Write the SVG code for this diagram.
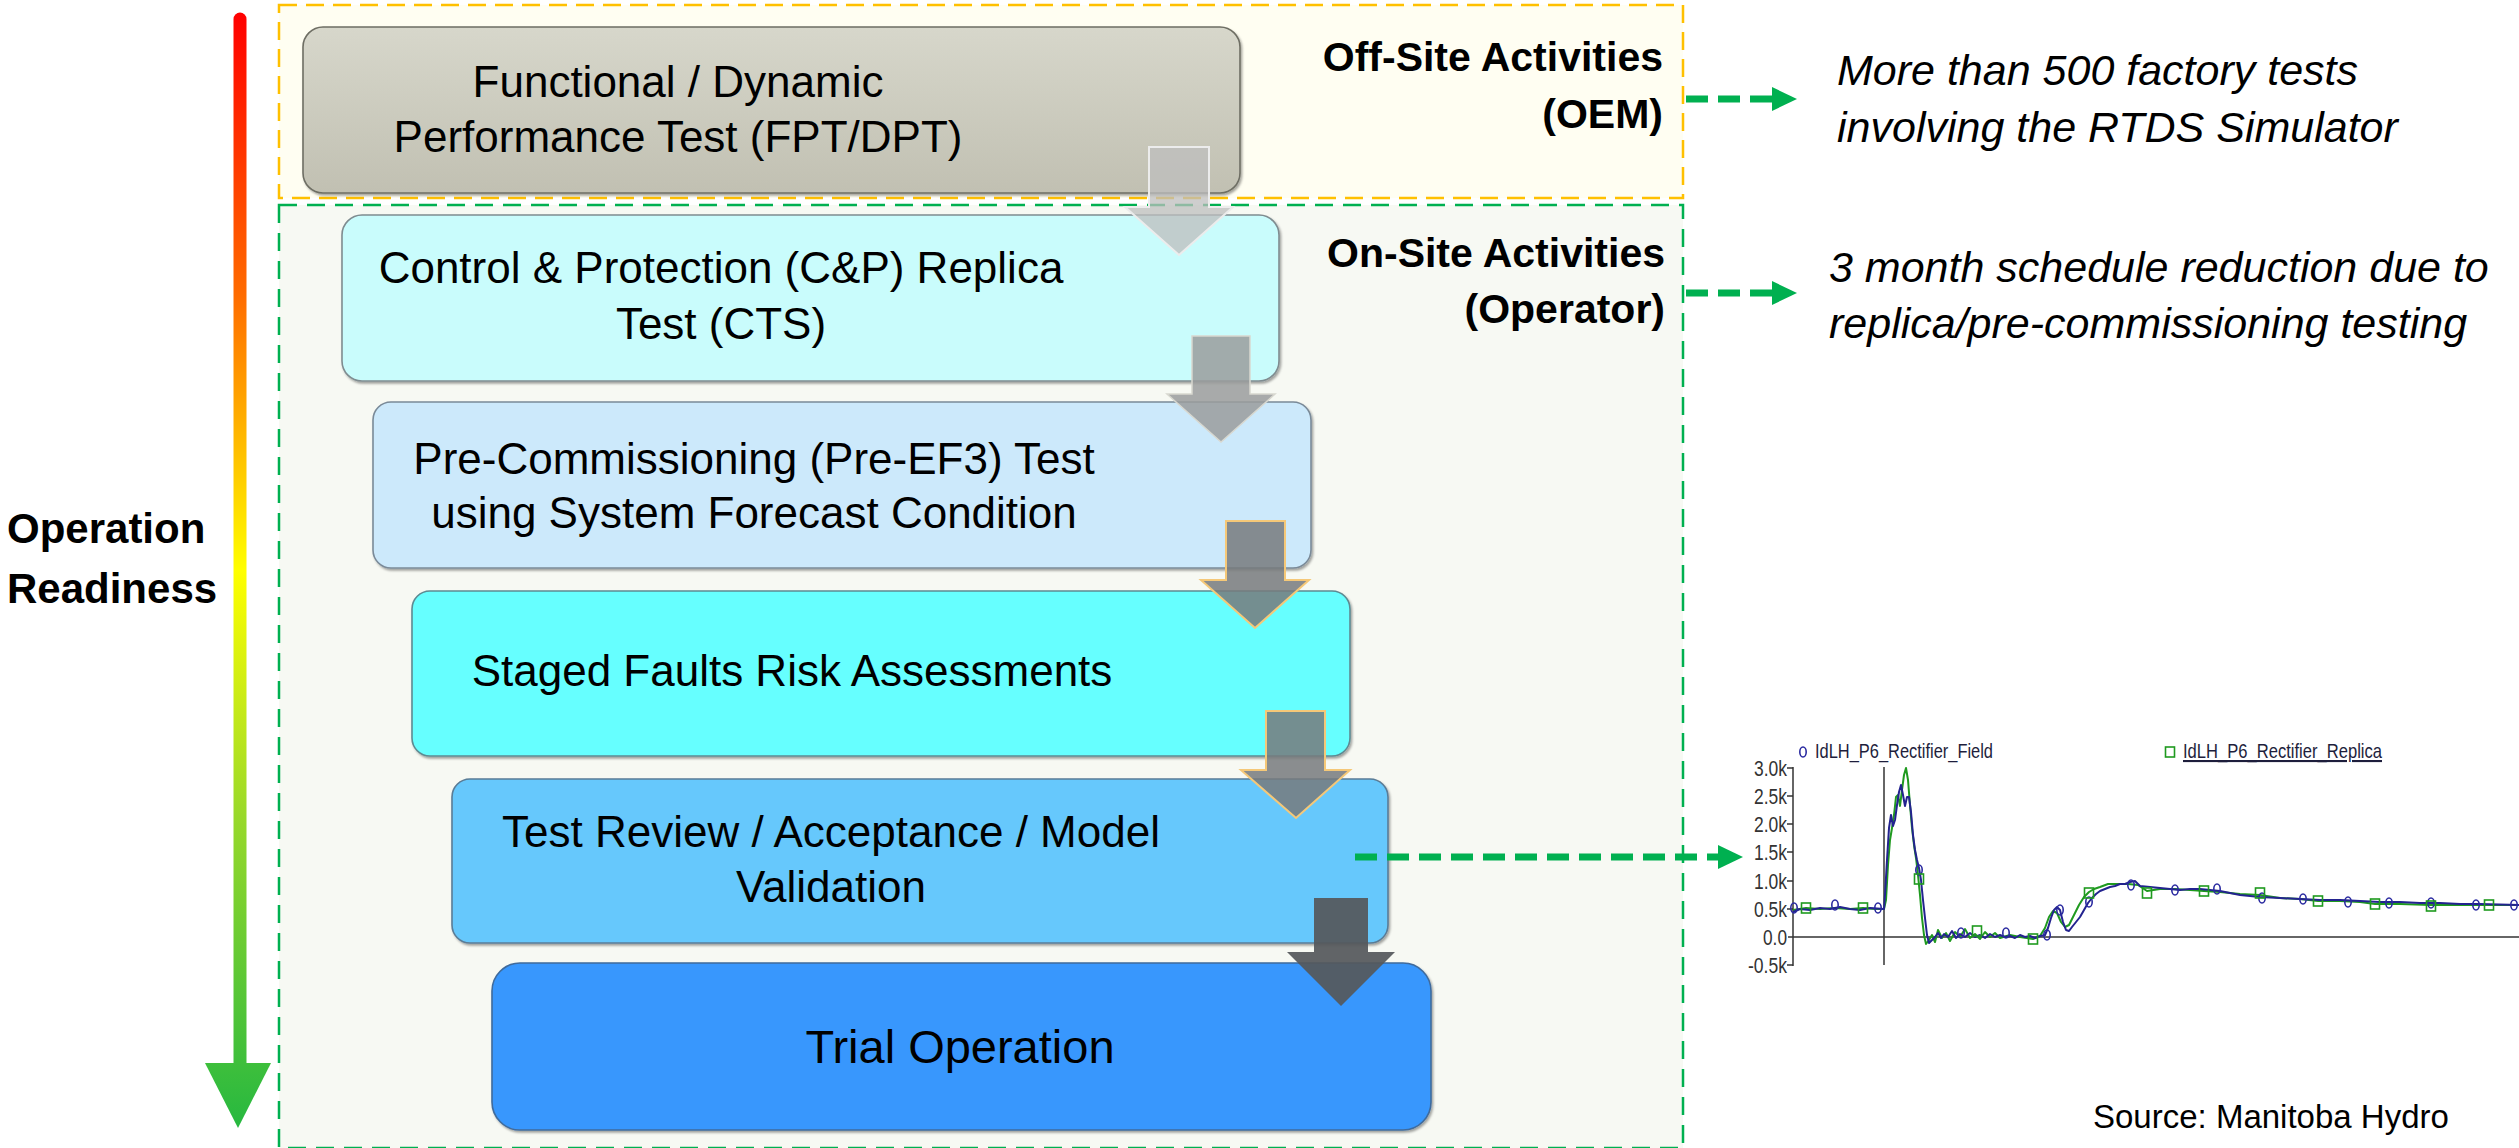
<svg xmlns="http://www.w3.org/2000/svg" xmlns:xlink="http://www.w3.org/1999/xlink" width="2519" height="1148" viewBox="0 0 2519 1148">
  <style>
    .node-text { font-family: "Liberation Sans", Arial, sans-serif; font-size: 44px; fill: #000; text-anchor: middle; }
    .side-label { font-family: "Liberation Sans", Arial, sans-serif; font-size: 41px; font-weight: bold; fill: #000; text-anchor: end; }
    .note { font-family: "Liberation Sans", Arial, sans-serif; font-size: 43px; font-style: italic; fill: #000; }
    .axis-label { font-family: "Liberation Sans", Arial, sans-serif; font-size: 22px; fill: #333; text-anchor: end; }
    .legend { font-family: "Liberation Sans", Arial, sans-serif; font-size: 21px; fill: #1e1e3c; }
    .box { stroke-width: 1.6; }
    .flow-arrow { stroke-linejoin: miter; }
    .link { stroke: #00b050; stroke-width: 7; stroke-dasharray: 22 10; fill: none; }
  </style>
  <defs>
    <linearGradient id="readiness" gradientUnits="userSpaceOnUse" x1="0" y1="13" x2="0" y2="1128">
      <stop offset="0" stop-color="#ff0000"/>
      <stop offset="0.25" stop-color="#ff6a00"/>
      <stop offset="0.5" stop-color="#ffff00"/>
      <stop offset="0.72" stop-color="#99d92a"/>
      <stop offset="1" stop-color="#26b840"/>
    </linearGradient>
    <linearGradient id="grayFill" x1="0" y1="0" x2="0" y2="1">
      <stop offset="0" stop-color="#d7d7cb"/>
      <stop offset="1" stop-color="#c1c0b2"/>
    </linearGradient>
    <filter id="shadow" x="-5%" y="-10%" width="110%" height="125%">
      <feDropShadow dx="1.5" dy="2" stdDeviation="1" flood-color="#000" flood-opacity="0.35"/>
    </filter>
    <marker id="greenHead" markerUnits="userSpaceOnUse" markerWidth="26" markerHeight="24" refX="0" refY="12" orient="auto">
      <path d="M0,0 L25,12 L0,24 Z" fill="#00b050"/>
    </marker>
    <ellipse id="circ" cx="0" cy="0" rx="3.2" ry="5" fill="none" stroke="#2a2aa0" stroke-width="1.6"/>
    <rect id="sq" x="-4.5" y="-5" width="9" height="10" fill="none" stroke="#1f9a1f" stroke-width="1.6"/>
  </defs>

  <rect x="0" y="0" width="2519" height="1148" fill="#ffffff"/>

  <!-- readiness scale on the left -->
  <g id="readiness-scale">
    <line x1="240" y1="19" x2="240" y2="1066" stroke="url(#readiness)" stroke-width="13" stroke-linecap="round"/>
    <polygon points="205,1063 271,1063 238,1128" fill="url(#readiness)"/>
    <text x="7" y="543" font-family="Liberation Sans, Arial, sans-serif" font-size="42" font-weight="bold">Operation</text>
    <text x="7" y="603" font-family="Liberation Sans, Arial, sans-serif" font-size="42" font-weight="bold">Readiness</text>
  </g>

  <!-- activity zones -->
  <g id="off-site-zone">
    <rect x="279" y="5" width="1404" height="193" fill="#fffef2" stroke="#ffc000" stroke-width="2.5" stroke-dasharray="18 9"/>
    <text class="side-label" x="1663" y="71">Off-Site Activities</text>
    <text class="side-label" x="1663" y="128">(OEM)</text>
  </g>
  <g id="on-site-zone">
    <rect x="279" y="205" width="1404" height="943" fill="#f7f9f3" stroke="#00b050" stroke-width="2.5" stroke-dasharray="18 10"/>
    <text class="side-label" x="1665" y="267">On-Site Activities</text>
    <text class="side-label" x="1665" y="323">(Operator)</text>
  </g>

  <!-- process steps -->
  <g id="step-fpt-dpt">
    <rect class="box" x="303" y="27" width="937" height="166" rx="20" fill="url(#grayFill)" stroke="#6e6e64" filter="url(#shadow)"/>
    <text class="node-text" x="678" y="97">Functional / Dynamic</text>
    <text class="node-text" x="678" y="152">Performance Test (FPT/DPT)</text>
  </g>
  <g id="step-replica">
    <rect class="box" x="342" y="215" width="937" height="166" rx="20" fill="#c9fcfc" stroke="#7f8c90" filter="url(#shadow)"/>
    <text class="node-text" x="721" y="283">Control &amp; Protection (C&amp;P) Replica</text>
    <text class="node-text" x="721" y="339">Test (CTS)</text>
  </g>
  <g id="step-pre-commissioning">
    <rect class="box" x="373" y="402" width="938" height="166" rx="18" fill="#cce9fb" stroke="#7a8a98" filter="url(#shadow)"/>
    <text class="node-text" x="754" y="474">Pre-Commissioning (Pre-EF3) Test</text>
    <text class="node-text" x="754" y="528">using System Forecast Condition</text>
  </g>
  <g id="step-staged-faults">
    <rect class="box" x="412" y="591" width="938" height="165" rx="18" fill="#66ffff" stroke="#5d8a92" filter="url(#shadow)"/>
    <text class="node-text" x="792" y="686">Staged Faults Risk Assessments</text>
  </g>
  <g id="step-review">
    <rect class="box" x="452" y="779" width="936" height="164" rx="18" fill="#66c8fc" stroke="#5a7c96" filter="url(#shadow)"/>
    <text class="node-text" x="831" y="847">Test Review / Acceptance / Model</text>
    <text class="node-text" x="831" y="902">Validation</text>
  </g>
  <g id="step-trial">
    <rect class="box" x="492" y="963" width="939" height="167" rx="28" fill="#3797fd" stroke="#3f6b9c" stroke-width="2" filter="url(#shadow)"/>
    <text class="node-text" x="960" y="1063" style="font-size:47px">Trial Operation</text>
  </g>

  <!-- connectors -->
  <g id="connectors">
    <polygon class="flow-arrow" points="1149,147 1209,147 1209,207 1233,207 1179,255 1125,207 1149,207" fill="#bdbdbd" fill-opacity="0.75" stroke="#ececec" stroke-width="2"/>
    <polygon class="flow-arrow" points="1192,336 1250,336 1250,394 1275,394 1221,442 1167,394 1192,394" fill="#9a9c9c" fill-opacity="0.85" stroke="#d8d8d0" stroke-width="1.5"/>
    <polygon class="flow-arrow" points="1226,521 1285,521 1285,580 1309,580 1255,628 1201,580 1226,580" fill="#777a7d" fill-opacity="0.85" stroke="#f5c878" stroke-width="2"/>
    <polygon class="flow-arrow" points="1266,711 1325,711 1325,770 1350,770 1296,818 1241,770 1266,770" fill="#777a7d" fill-opacity="0.85" stroke="#f5c878" stroke-width="2"/>
    <polygon class="flow-arrow" points="1314,898 1368,898 1368,952 1395,952 1341,1006 1287,952 1314,952" fill="#55585b" fill-opacity="0.93"/>

    <line class="link" x1="1686" y1="99" x2="1772" y2="99" marker-end="url(#greenHead)"/>
    <line class="link" x1="1686" y1="293" x2="1772" y2="293" marker-end="url(#greenHead)"/>
    <line class="link" x1="1355" y1="857" x2="1718" y2="857" marker-end="url(#greenHead)"/>
  </g>

  <!-- notes -->
  <g id="notes">
    <text class="note" x="1837" y="85">More than 500 factory tests</text>
    <text class="note" x="1837" y="142">involving the RTDS Simulator</text>
    <text class="note" x="1829" y="282">3 month schedule reduction due to</text>
    <text class="note" x="1829" y="338">replica/pre-commissioning testing</text>
  </g>

  <!-- measured vs. replica DC current trace -->
  <g id="trace-chart">
    <use xlink:href="#circ" x="1803" y="752"/>
    <text class="legend" x="1815" y="758" textLength="178" lengthAdjust="spacingAndGlyphs">IdLH_P6_Rectifier_Field</text>
    <use xlink:href="#sq" x="2170" y="752"/>
    <text class="legend" x="2183" y="758" textLength="199" lengthAdjust="spacingAndGlyphs" text-decoration="underline">IdLH_P6_Rectifier_Replica</text>

    <g stroke="#333" stroke-width="1.5">
      <line x1="1793" y1="767" x2="1793" y2="966"/>
      <line x1="1788" y1="937" x2="2519" y2="937"/>
      <line x1="1884" y1="767" x2="1884" y2="965"/>
      <line x1="1787" y1="768" x2="1793" y2="768"/>
      <line x1="1787" y1="796" x2="1793" y2="796"/>
      <line x1="1787" y1="824" x2="1793" y2="824"/>
      <line x1="1787" y1="852" x2="1793" y2="852"/>
      <line x1="1787" y1="881" x2="1793" y2="881"/>
      <line x1="1787" y1="909" x2="1793" y2="909"/>
      <line x1="1787" y1="965" x2="1793" y2="965"/>
    </g>
    <text class="axis-label" x="1787" y="776" textLength="33" lengthAdjust="spacingAndGlyphs">3.0k</text>
    <text class="axis-label" x="1787" y="804" textLength="33" lengthAdjust="spacingAndGlyphs">2.5k</text>
    <text class="axis-label" x="1787" y="832" textLength="33" lengthAdjust="spacingAndGlyphs">2.0k</text>
    <text class="axis-label" x="1787" y="860" textLength="33" lengthAdjust="spacingAndGlyphs">1.5k</text>
    <text class="axis-label" x="1787" y="889" textLength="33" lengthAdjust="spacingAndGlyphs">1.0k</text>
    <text class="axis-label" x="1787" y="917" textLength="33" lengthAdjust="spacingAndGlyphs">0.5k</text>
    <text class="axis-label" x="1787" y="945" textLength="24" lengthAdjust="spacingAndGlyphs">0.0</text>
    <text class="axis-label" x="1787" y="973" textLength="39" lengthAdjust="spacingAndGlyphs">-0.5k</text>

    <polyline fill="none" stroke="#1f9a1f" stroke-width="2" stroke-linejoin="round" points="1793,910 1806,908 1820,909 1835,908 1850,909 1863,908 1875,909 1884,909 1886,900 1888,865 1890,840 1892,828 1894,815 1896,797 1898,795 1900,806 1902,790 1904,775 1906,768 1908,780 1910,805 1912,828 1914,845 1916,858 1918,875 1920,895 1922,918 1924,935 1926,944 1929,940 1932,935 1935,942 1938,930 1942,938 1946,933 1950,941 1955,932 1960,937 1965,929 1970,938 1975,934 1980,939 1985,932 1990,937 1995,933 2000,938 2010,935 2020,937 2033,939 2040,936 2045,928 2049,917 2053,911 2057,913 2061,922 2065,927 2069,925 2074,915 2079,905 2084,897 2089,892 2094,889 2100,887 2108,884 2118,884 2128,884 2138,885 2147,891 2160,889 2175,889 2190,890 2204,891 2220,892 2240,894 2260,895 2280,898 2300,899 2318,901 2340,901 2360,902 2375,904 2400,904 2431,905 2460,905 2489,905 2519,905"/>
    <polyline fill="none" stroke="#23238f" stroke-width="2" stroke-linejoin="round" points="1793,912 1800,909 1810,910 1820,908 1830,909 1840,907 1850,909 1860,910 1870,908 1884,909 1885,895 1887,860 1889,828 1891,815 1893,826 1895,820 1897,805 1899,792 1901,785 1903,795 1905,806 1907,797 1909,797 1911,812 1913,835 1915,850 1917,860 1919,868 1921,880 1923,900 1925,918 1927,935 1929,943 1932,940 1935,937 1938,933 1941,938 1944,934 1948,937 1952,931 1956,938 1960,934 1965,937 1970,933 1975,937 1980,935 1985,938 1990,934 1995,937 2000,935 2005,937 2010,936 2015,938 2020,935 2025,937 2030,936 2035,938 2040,936 2045,935 2048,928 2051,918 2054,910 2057,907 2060,910 2063,922 2066,930 2069,931 2072,927 2076,922 2080,917 2084,910 2088,903 2092,898 2096,894 2100,891 2105,889 2110,887 2115,886 2120,884 2125,884 2130,882 2135,881 2140,886 2150,887 2160,888 2170,889 2180,890 2190,889 2200,889 2210,890 2220,891 2230,893 2240,895 2250,896 2260,897 2280,898 2300,899 2320,900 2340,900 2360,901 2380,902 2400,902 2420,903 2440,903 2460,904 2480,904 2519,905"/>

    <g id="field-markers">
      <use xlink:href="#circ" x="1794" y="908"/>
      <use xlink:href="#circ" x="1835" y="905"/>
      <use xlink:href="#circ" x="1878" y="908"/>
      <use xlink:href="#circ" x="1919" y="870"/>
      <use xlink:href="#circ" x="1961" y="933"/>
      <use xlink:href="#circ" x="2006" y="933"/>
      <use xlink:href="#circ" x="2047" y="935"/>
      <use xlink:href="#circ" x="2060" y="910"/>
      <use xlink:href="#circ" x="2089" y="902"/>
      <use xlink:href="#circ" x="2131" y="885"/>
      <use xlink:href="#circ" x="2175" y="890"/>
      <use xlink:href="#circ" x="2217" y="889"/>
      <use xlink:href="#circ" x="2262" y="898"/>
      <use xlink:href="#circ" x="2303" y="899"/>
      <use xlink:href="#circ" x="2348" y="902"/>
      <use xlink:href="#circ" x="2389" y="903"/>
      <use xlink:href="#circ" x="2431" y="903"/>
      <use xlink:href="#circ" x="2476" y="905"/>
      <use xlink:href="#circ" x="2514" y="905"/>
    </g>
    <g id="replica-markers">
      <use xlink:href="#sq" x="1806" y="908"/>
      <use xlink:href="#sq" x="1863" y="908"/>
      <use xlink:href="#sq" x="1919" y="879"/>
      <use xlink:href="#sq" x="1977" y="931"/>
      <use xlink:href="#sq" x="2033" y="939"/>
      <use xlink:href="#sq" x="2089" y="893"/>
      <use xlink:href="#sq" x="2147" y="893"/>
      <use xlink:href="#sq" x="2204" y="891"/>
      <use xlink:href="#sq" x="2260" y="893"/>
      <use xlink:href="#sq" x="2318" y="901"/>
      <use xlink:href="#sq" x="2375" y="904"/>
      <use xlink:href="#sq" x="2431" y="906"/>
      <use xlink:href="#sq" x="2489" y="905"/>
    </g>
  </g>

  <text x="2093" y="1128" font-family="Liberation Sans, Arial, sans-serif" font-size="33" fill="#000">Source: Manitoba Hydro</text>
</svg>
